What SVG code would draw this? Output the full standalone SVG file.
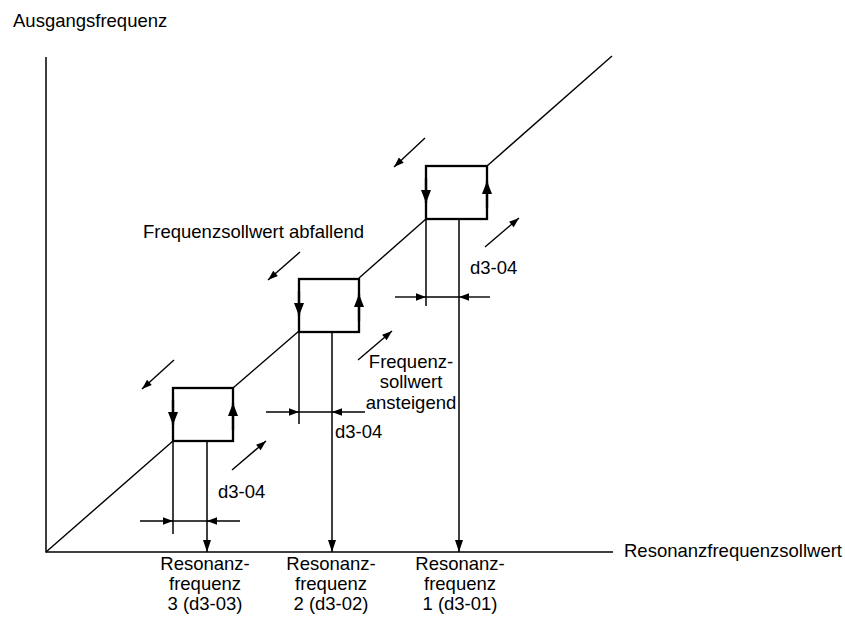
<svg xmlns="http://www.w3.org/2000/svg" width="845" height="619" viewBox="0 0 845 619">
  <defs>
    <style>
      .ln { stroke: #000; fill: none; stroke-width: 1.4; }
      .axis { stroke: #000; fill: none; stroke-width: 1.5; }
      .box { stroke: #000; fill: none; stroke-width: 2.3; }
      .txt { font-family: "Liberation Sans", Arial, sans-serif; font-size: 18.5px; fill: #000; }
      .mid { text-anchor: middle; }
    </style>
    <marker id="boxHead" markerUnits="userSpaceOnUse" markerWidth="16" markerHeight="12" viewBox="0 -6 14 12" refX="13" refY="0" orient="auto">
      <path d="M0,-5 L13,0 L0,5 z" fill="#000"/>
    </marker>
    <marker id="dimHead" markerUnits="userSpaceOnUse" markerWidth="12" markerHeight="10" viewBox="0 -5 11 10" refX="10" refY="0" orient="auto">
      <path d="M0,-3.8 L10,0 L0,3.8 z" fill="#000"/>
    </marker>
    <marker id="dropHead" markerUnits="userSpaceOnUse" markerWidth="14" markerHeight="10" viewBox="0 -5 13 10" refX="12" refY="0" orient="auto">
      <path d="M0,-4 L12,0 L0,4 z" fill="#000"/>
    </marker>
    <marker id="dirHead" markerUnits="userSpaceOnUse" markerWidth="12" markerHeight="10" viewBox="0 -5 11 10" refX="10" refY="0" orient="auto">
      <path d="M0,-3.5 L10,0 L0,3.5 z" fill="#000"/>
    </marker>
  </defs>

  <!-- axes -->
  <g id="axes">
    <path class="axis" d="M46,57 V552 H613"/>
  </g>

  <!-- output frequency curve between the hysteresis boxes -->
  <g id="curve">
    <path class="ln" d="M46,552 L173,441"/>
    <path class="ln" d="M233,388 L299,331"/>
    <path class="ln" d="M359,278 L426,219"/>
    <path class="ln" d="M487,166 L612,56"/>
  </g>

  <!-- hysteresis boxes at the resonance frequencies -->
  <g id="box3">
    <rect class="box" x="173" y="388" width="60" height="53"/>
    <path class="box" d="M173,400 V425" marker-end="url(#boxHead)"/>
    <path class="box" d="M233,430 V403" marker-end="url(#boxHead)"/>
  </g>
  <g id="box2">
    <rect class="box" x="299" y="279" width="60" height="53"/>
    <path class="box" d="M299,291 V316" marker-end="url(#boxHead)"/>
    <path class="box" d="M359,321 V294" marker-end="url(#boxHead)"/>
  </g>
  <g id="box1">
    <rect class="box" x="426" y="166" width="61" height="53"/>
    <path class="box" d="M426,178 V203" marker-end="url(#boxHead)"/>
    <path class="box" d="M487,208 V181" marker-end="url(#boxHead)"/>
  </g>

  <!-- band width dimensions and drop lines to the axis -->
  <g id="connectors">
    <path class="axis" d="M173,441 V534"/>
    <path class="axis" d="M207,441 V552" marker-end="url(#dropHead)"/>
    <path class="ln" d="M140,521 H173" marker-end="url(#dimHead)"/>
    <path class="ln" d="M240,521 H207" marker-end="url(#dimHead)"/>
    <path class="ln" d="M173,521 H207"/>

    <path class="axis" d="M299,332 V424"/>
    <path class="axis" d="M332,332 V552" marker-end="url(#dropHead)"/>
    <path class="ln" d="M266,412 H299" marker-end="url(#dimHead)"/>
    <path class="ln" d="M365,412 H332" marker-end="url(#dimHead)"/>
    <path class="ln" d="M299,412 H332"/>

    <path class="axis" d="M426,219 V306"/>
    <path class="axis" d="M459,219 V552" marker-end="url(#dropHead)"/>
    <path class="ln" d="M395,297 H426" marker-end="url(#dimHead)"/>
    <path class="ln" d="M490,297 H459" marker-end="url(#dimHead)"/>
    <path class="ln" d="M426,297 H459"/>

    <!-- direction arrows: falling setpoint -->
    <path class="ln" d="M174,360 L142,389" marker-end="url(#dirHead)"/>
    <path class="ln" d="M300,252 L268,280" marker-end="url(#dirHead)"/>
    <path class="ln" d="M425,138 L394,167" marker-end="url(#dirHead)"/>
    <!-- direction arrows: rising setpoint -->
    <path class="ln" d="M232,470 L266,441" marker-end="url(#dirHead)"/>
    <path class="ln" d="M358,360 L392,331" marker-end="url(#dirHead)"/>
    <path class="ln" d="M485,247 L519,218" marker-end="url(#dirHead)"/>
  </g>

  <!-- labels -->
  <g id="labels" class="txt">
    <text x="13" y="27">Ausgangsfrequenz</text>
    <text x="624" y="557">Resonanzfrequenzsollwert</text>
    <text x="143" y="238">Frequenzsollwert abfallend</text>
    <text x="470" y="274">d3-04</text>
    <text x="335" y="438">d3-04</text>
    <text x="218" y="498">d3-04</text>
    <text class="mid" x="411" y="368">Frequenz-</text>
    <text class="mid" x="411" y="388">sollwert</text>
    <text class="mid" x="411" y="409">ansteigend</text>
    <text class="mid" x="205" y="570">Resonanz-</text>
    <text class="mid" x="205" y="590">frequenz</text>
    <text class="mid" x="205" y="610">3 (d3-03)</text>
    <text class="mid" x="331" y="570">Resonanz-</text>
    <text class="mid" x="331" y="590">frequenz</text>
    <text class="mid" x="331" y="610">2 (d3-02)</text>
    <text class="mid" x="460" y="570">Resonanz-</text>
    <text class="mid" x="460" y="590">frequenz</text>
    <text class="mid" x="460" y="610">1 (d3-01)</text>
  </g>
</svg>
